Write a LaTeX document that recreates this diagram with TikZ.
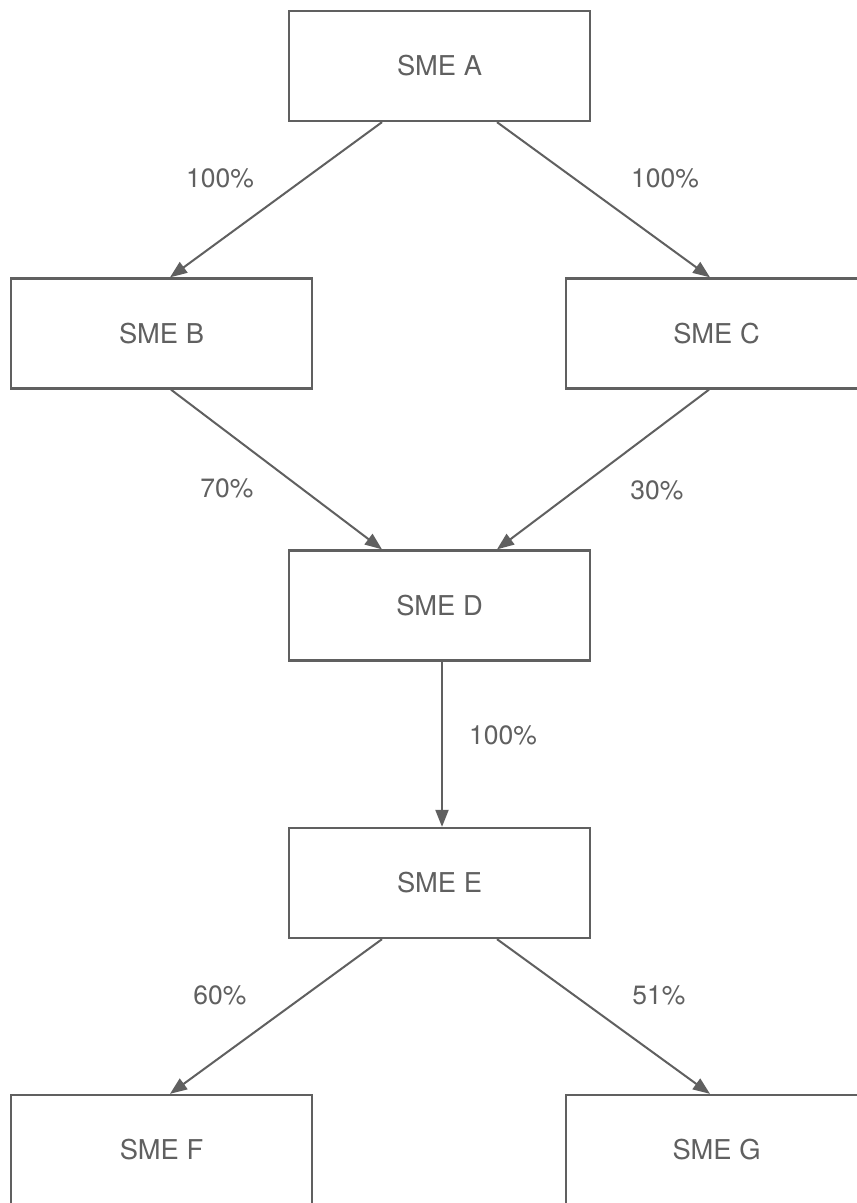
\documentclass[tikz,border=0pt]{standalone}
\usepackage{fontspec}
\setmainfont{TeX Gyre Heros}
\usetikzlibrary{arrows.meta}
\definecolor{ink}{RGB}{96,96,96}
\begin{document}
\begin{tikzpicture}[x=1pt,y=-1pt,
  smebox/.style={draw=ink, line width=2.3pt, rectangle, minimum width=301pt,
    minimum height=110pt, inner sep=0pt, text=ink,
    font=\fontsize{27.3}{32}\selectfont},
  share/.style={text=ink, inner sep=0pt, font=\fontsize{26.5}{31}\selectfont},
  link/.style={draw=ink, line width=2pt, -{Triangle[length=17pt,width=13pt]}}]
\clip (0,0) rectangle (857,1203);
\fill[white] (0,0) rectangle (857,1203);

% companies
\node[smebox] (A) at (439.5,66)    {SME A};
\node[smebox] (B) at (161.5,333.5) {SME B};
\node[smebox] (C) at (716.5,333.5) {SME C};
\node[smebox] (D) at (439.5,605.5) {SME D};
\node[smebox] (E) at (439.5,883)   {SME E};
\node[smebox] (F) at (161.5,1150)  {SME F};
\node[smebox] (G) at (716.5,1150)  {SME G};

% ownership links
\draw[link] ([xshift=-57.5pt]A.south) -- ([xshift=8.5pt]B.north);
\draw[link] ([xshift=57.5pt]A.south)  -- ([xshift=-6.5pt]C.north);
\draw[link] ([xshift=9.5pt]B.south)   -- ([xshift=-57.5pt]D.north);
\draw[link] ([xshift=-7.5pt]C.south)  -- ([xshift=57.5pt]D.north);
\draw[link] ([xshift=2.5pt]D.south)   -- ([xshift=2.5pt]E.north);
\draw[link] ([xshift=-57.5pt]E.south) -- ([xshift=8.5pt]F.north);
\draw[link] ([xshift=57.5pt]E.south)  -- ([xshift=-6.5pt]G.north);

% shares
\node[share] (pAB) at (220,178) {100\%};
\node[share] (pAC) at (665,178) {100\%};
\node[share] (pBD) at (227,488) {70\%};
\node[share] (pCD) at (657,490) {30\%};
\node[share] (pDE) at (503,735) {100\%};
\node[share] (pEF) at (220,995) {60\%};
\node[share] (pEG) at (659,995) {51\%};
\end{tikzpicture}
\end{document}
